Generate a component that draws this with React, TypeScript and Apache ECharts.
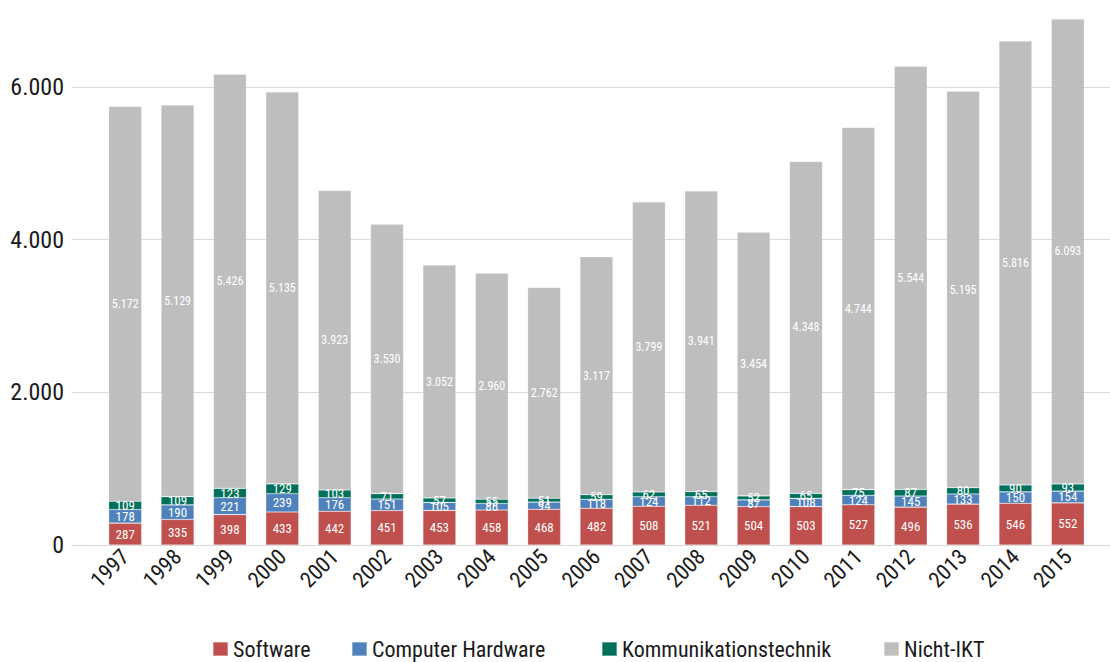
import React, { useEffect, useRef } from "react";
import * as echarts from "echarts";

const years = ["1997","1998","1999","2000","2001","2002","2003","2004","2005","2006","2007","2008","2009","2010","2011","2012","2013","2014","2015"];
const software = [287,335,398,433,442,451,453,458,468,482,508,521,504,503,527,496,536,546,552];
const hardware = [178,190,221,239,176,151,105,86,94,118,124,112,87,108,124,145,133,150,154];
const komm = [109,109,123,129,103,71,57,55,51,59,62,65,52,65,75,87,80,90,93];
const nichtIkt = [5172,5129,5426,5135,3923,3530,3052,2960,2762,3117,3799,3941,3454,4348,4744,5544,5195,5816,6093];
const seriesNames = ["Software", "Computer Hardware", "Kommunikationstechnik", "Nicht-IKT"];
const yTicks = [0, 2000, 4000, 6000];

const FONT = "Roboto, sans-serif";
const TEXT = "#1a1a1a";

const fmt = (v: number) => String(v).replace(/\B(?=(\d{3})+(?!\d))/g, ".");

export default function App() {
  const ref = useRef<HTMLDivElement>(null);
  useEffect(() => {
    if (!ref.current) return;
    const chart = echarts.init(ref.current, null, { renderer: "svg" });
    const mk = (name: string, data: number[], color: string, size: number) => ({
      name,
      type: "bar",
      stack: "total",
      data,
      xAxisIndex: 0,
      yAxisIndex: 0,
      barCategoryGap: "37%",
      itemStyle: { color, borderColor: "rgba(255,255,255,0.35)", borderWidth: 0.6 },
      label: {
        show: true,
        position: "inside",
        color: "#ffffff",
        fontFamily: FONT,
        fontSize: size,
        formatter: (p: any) => fmt(p.value),
      },
    });
    const legendLefts = [207, 346, 596, 878];
    const gridTop = 14.3;
    const gridBottom = 117;
    chart.setOption({
      animation: false,
      textStyle: { fontFamily: FONT },
      grid: [
        { left: 99, right: 16, top: gridTop, bottom: gridBottom, containLabel: false },
        { left: 72, right: 0, top: gridTop, bottom: gridBottom, containLabel: false },
      ],
      xAxis: [
        {
          type: "category",
          gridIndex: 0,
          data: years,
          axisTick: { show: false },
          axisLine: { show: false },
          axisLabel: { rotate: 45, fontSize: 22, color: TEXT, fontFamily: FONT, margin: 8, interval: 0 },
        },
        { type: "value", gridIndex: 1, min: 0, max: 1, show: false },
      ],
      yAxis: [
        {
          type: "value",
          gridIndex: 0,
          min: 0,
          max: 8000,
          interval: 2000,
          axisLine: { show: false },
          axisTick: { show: false },
          axisLabel: {
            fontSize: 24,
            color: TEXT,
            fontFamily: FONT,
            margin: 35,
            formatter: (v: number) => (yTicks.includes(v) ? fmt(v) : ""),
          },
          splitLine: { show: false },
        },
        {
          type: "value",
          gridIndex: 1,
          min: 0,
          max: 8000,
          interval: 2000,
          axisLine: { show: false },
          axisTick: { show: false },
          axisLabel: { show: false },
          splitLine: { lineStyle: { color: "#d9d9d9", width: 1 } },
        },
      ],
      legend: seriesNames.map((n, i) => ({
        data: [n],
        left: legendLefts[i],
        top: 713,
        itemWidth: 15,
        itemHeight: 14,
        icon: "rect",
        textStyle: { fontSize: 22, color: TEXT, fontFamily: FONT, lineHeight: 22 },
      })),
      series: [
        mk(seriesNames[0], software, "#C0504D", 13),
        mk(seriesNames[1], hardware, "#4F81BD", 13),
        mk(seriesNames[2], komm, "#00705A", 13),
        mk(seriesNames[3], nichtIkt, "#BEBEBE", 12),
      ],
    });
    return () => chart.dispose();
  }, []);
  return (
    <>
      <style>{"svg text { font-stretch: 75% !important; }"}</style>
      <div ref={ref} style={{ position: "fixed", left: 0, top: -80, width: 1110, height: 742, background: "#fff" }} />
    </>
  );
}
